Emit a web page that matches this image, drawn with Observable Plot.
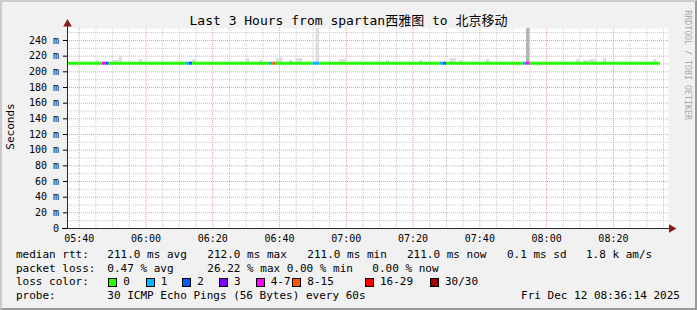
<!DOCTYPE html>
<html><head><meta charset="utf-8">
<script src="https://cdn.jsdelivr.net/npm/d3@7"></script>
<script src="https://cdn.jsdelivr.net/npm/@observablehq/plot@0.6"></script>
<style>
body{margin:0;background:#f1f1f1;}
#chart{position:relative;width:697px;height:310px;background:#f1f1f1;overflow:hidden;font-family:"DejaVu Sans Mono","Noto Sans CJK SC",monospace;color:#000;}
#plot{position:absolute;left:0;top:0;}
#border{position:absolute;left:0;top:0;width:697px;height:310px;box-sizing:border-box;border-top:2px solid #cbcbcb;border-left:2px solid #cbcbcb;border-right:2px solid #999;border-bottom:2px solid #999;pointer-events:none;}
.t{position:absolute;white-space:pre;font-size:11px;line-height:1;}
.box{position:absolute;width:7px;height:7px;border:1px solid #000;}
#title{position:absolute;left:0;top:14px;width:697px;text-align:center;font-size:13px;line-height:1;white-space:pre;}
#ylab{position:absolute;left:-40px;top:121px;width:100px;text-align:center;font-size:11px;line-height:1;transform:rotate(-90deg);}
#credit{position:absolute;left:638px;top:56px;width:100px;text-align:center;font-size:8.3px;line-height:1;color:#a8a8a8;transform:rotate(90deg);white-space:pre;}
</style></head>
<body>
<div id="chart">
  <div id="plot"></div>
  <div id="title"></div>
  <div id="ylab"></div>
  <div id="credit"></div>
  <div id="legend"></div>
  <div id="border"></div>
</div>
<script>
// ---------- data ----------
const titleText = "Last 3 Hours from spartan西雅图 to 北京移动";
const yLabel = "Seconds";
const creditText = "RRDTOOL / TOBI OETIKER";
const day = "2025-12-12";
const rangeStart = "05:36:30";
const rangeEnd = "08:36:30";
const yTop = 255.3;

const lossLabels = ["0","1","2","3","4-7","8-15","16-29","30/30"];
const lossColors = ["#26ff00","#00b8ff","#0059ff","#7e00ff","#ff00ff","#ff5500","#ff0000","#a10000"];

// median rtt runs (ms) coloured by loss category
const runStart  = ["05:36","05:47","05:48","05:49","06:12","06:13","06:14","06:37","06:38","06:39","06:50","06:52","07:28","07:29","07:30","07:53","07:54","07:55"];
const runEnd    = ["05:47","05:48","05:49","06:12","06:13","06:14","06:37","06:38","06:39","06:50","06:52","07:28","07:29","07:30","07:53","07:54","07:55","08:34"];
const runMedian = [211,211,211,211,211,211,211,211,211,211,211,211,211,211,211,211,211,211];
const runLoss   = [0,4,2,0,1,2,0,1,5,0,1,0,1,2,0,1,4,0];

// smoke (ping spread above the median), ms
const smokeStart = ["05:45","05:50","05:52","05:58","06:14","06:30","06:34","06:39","06:40","06:43","06:45","06:51","06:58","07:12","07:22","07:31","07:34","07:42","07:54","08:09","08:11","08:13","08:17","08:32"];
const smokeEnd   = ["05:46","05:52","05:53","05:59","06:15","06:31","06:35","06:40","06:41","06:44","06:47","06:52","07:00","07:13","07:23","07:33","07:35","07:43","07:55","08:10","08:13","08:15","08:18","08:33"];
const smokeTop   = [214.5,214.5,220,215.8,215.8,216.6,214.5,216.6,219,214.5,217,300,215.8,214.5,214.5,217,214.5,215.8,300,215.8,214.5,215.8,217,215.8];
const smokeShade = ["#dedede","#dedede","#dedede","#dedede","#dedede","#dedede","#dedede","#dedede","#dedede","#dedede","#dedede","#dddddd","#dedede","#dedede","#dedede","#dedede","#dedede","#dedede","#b3b3b3","#dedede","#dedede","#dedede","#dedede","#dedede"];

// axis ticks
const yMajorTicks = [0,20,40,60,80,100,120,140,160,180,200,220,240];
const yMinorTicks = [10,30,50,70,90,110,130,150,170,190,210,230,250];
const xMajorTicks = ["05:40","06:00","06:20","06:40","07:00","07:20","07:40","08:00","08:20"];

// legend
const rttValues = [211.0, 212.0, 211.0, 211.0];
const rttNames  = ["avg","max","min","now"];
const rttSd = 0.1;
const amPerSec = "1.8 k";
const lossValues = [0.47, 26.22, 0.00, 0.00];
const lossNames  = ["avg","max","min","now"];
const probeText = "30 ICMP Echo Pings (56 Bytes) every 60s";
const dateText = "Fri Dec 12 08:36:14 2025";

// ---------- build ----------
const T = s => new Date(`${day}T${s.length === 5 ? s + ":00" : s}Z`);
const t0 = T(rangeStart), t1 = T(rangeEnd);

const runs = runStart.map((s, i) => ({x1: T(s), x2: T(runEnd[i]), y: runMedian[i], c: lossColors[runLoss[i]]}));
const smoke = smokeStart.map((s, i) => ({x1: T(s), x2: T(smokeEnd[i]), y1: runMedian[0], y2: smokeTop[i], f: smokeShade[i]}));
const xMajor = xMajorTicks.map(T);
const xMinor = d3.utcMinute.every(5).range(t0, t1).filter(d => d.getUTCMinutes() % 20 !== 0);

const gridMinor = "#c8c8c8", gridMajor = "#f29a9a";

const chart = Plot.plot({
  width: 697, height: 245,
  marginLeft: 67, marginRight: 29, marginTop: 28, marginBottom: 17,
  x: {type: "utc", domain: [t0, t1]},
  y: {domain: [0, yTop]},
  color: {type: "identity"},
  style: {background: "transparent", fontFamily: "DejaVu Sans Mono", fontSize: "10px", color: "#000", overflow: "visible"},
  marks: [
    Plot.frame({fill: "#ffffff", stroke: null}),
    Plot.ruleX(xMinor, {stroke: gridMinor, strokeDasharray: "1,1"}),
    Plot.ruleY(yMinorTicks, {stroke: gridMinor, strokeDasharray: "1,1"}),
    Plot.ruleX(xMajor, {stroke: gridMajor, strokeDasharray: "1,1"}),
    Plot.ruleY(yMajorTicks.filter(v => v > 0), {stroke: gridMajor, strokeDasharray: "1,1"}),
    Plot.rect(smoke, {x1: "x1", x2: "x2", y1: "y1", y2: "y2", fill: "f", clip: true}),
    Plot.ruleY(runs, {x1: "x1", x2: "x2", y: "y", stroke: "c", strokeWidth: 3, clip: true}),
    Plot.ruleX([t0], {stroke: "#2a2a2a", insetTop: -7}),
    Plot.ruleY([0], {stroke: "#2a2a2a", insetLeft: -5, insetRight: -3}),
    Plot.dot([t0], {x: d => d, y: () => yTop, dy: -4.5, symbol: "triangle", r: 3.2, fill: "#8b1a1a", stroke: null}),
    Plot.dot([t1], {x: d => d, y: () => 0, dx: 3, symbol: "triangle", rotate: 90, r: 3.2, fill: "#8b1a1a", stroke: null}),
    Plot.axisY({ticks: yMajorTicks, tickFormat: v => v === 0 ? "0" : `${v} m`, tickSize: 4, tickPadding: 4.5}),
    Plot.axisX({ticks: xMajor, tickFormat: d3.utcFormat("%H:%M"), tickSize: 0, tickPadding: 6.5})
  ]
});
document.getElementById("plot").appendChild(chart);

document.getElementById("title").textContent = titleText;
document.getElementById("ylab").textContent = yLabel;
document.getElementById("credit").textContent = creditText;

const legend = document.getElementById("legend");
function txt(s, x, y, right) {
  const e = document.createElement("span");
  e.className = "t";
  e.textContent = s;
  if (right) { e.style.right = (697 - x) + "px"; } else { e.style.left = x + "px"; }
  e.style.top = y + "px";
  legend.appendChild(e);
}
const rowTop = [249, 262.5, 276, 289.5];
const colLeft = 16;
// row 1
txt("median rtt:", colLeft, rowTop[0]);
const rttX = [107.3, 207.3, 307.3, 407, 507, 586];
rttValues.forEach((v, i) => txt(`${v.toFixed(1)} ms ${rttNames[i]}`, rttX[i], rowTop[0]));
txt(`${rttSd.toFixed(1)} ms sd`, rttX[4], rowTop[0]);
txt(`${amPerSec} am/s`, rttX[5], rowTop[0]);
// row 2
txt("packet loss:", colLeft, rowTop[1]);
const lossX = [107.3, 207.3, 286.7, 372.3];
lossValues.forEach((v, i) => txt(`${v.toFixed(2)} % ${lossNames[i]}`, lossX[i], rowTop[1]));
// row 3
txt("loss color:", colLeft, rowTop[2]);
const boxX = [108.3, 145.7, 182.3, 219, 255.7, 292.3, 365, 430];
lossLabels.forEach((l, i) => {
  const b = document.createElement("span");
  b.className = "box";
  b.style.left = boxX[i] + "px";
  b.style.top = (rowTop[2] + 1.7) + "px";
  b.style.background = lossColors[i];
  legend.appendChild(b);
  txt(l, boxX[i] + 15, rowTop[2]);
});
// row 4
txt("probe:", colLeft, rowTop[3]);
txt(probeText, 107.3, rowTop[3]);
txt(dateText, 680, rowTop[3], true);
</script>
</body></html>
